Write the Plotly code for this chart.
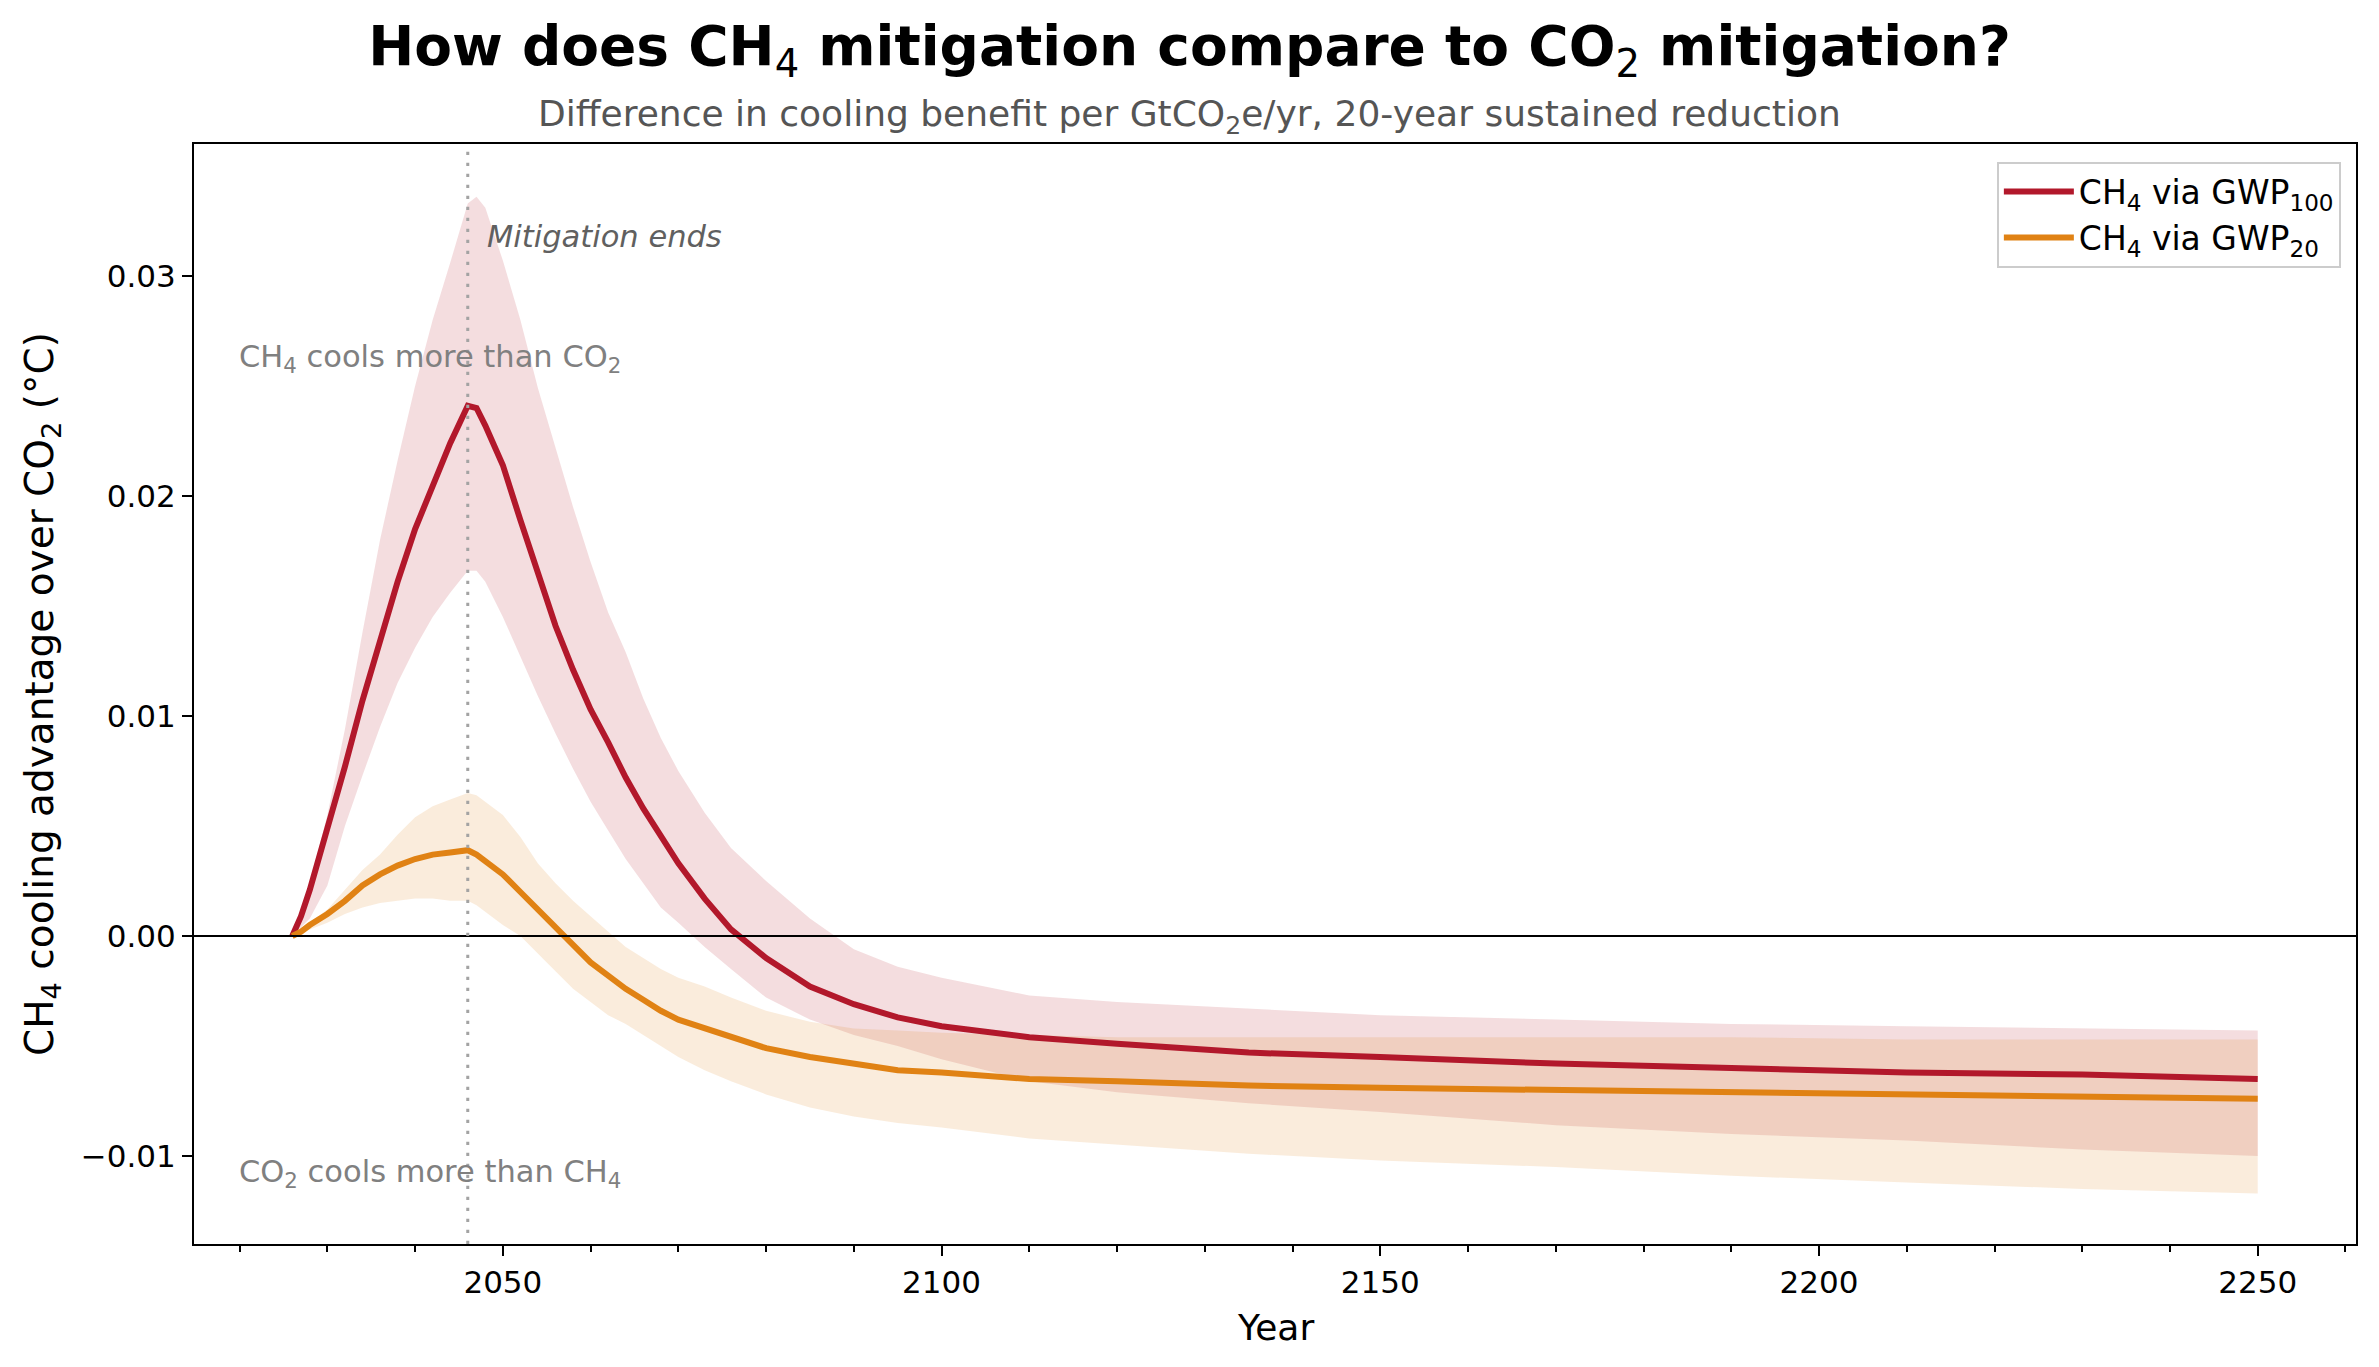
import plotly.graph_objects as go

# ---------------- data ----------------
years = [2026, 2027, 2028, 2030, 2032, 2034, 2036, 2038, 2040, 2042, 2044, 2046, 2047, 2048,
         2050, 2052, 2054, 2056, 2058, 2060, 2062, 2064, 2066, 2068, 2070, 2073, 2076, 2080,
         2085, 2090, 2095, 2100, 2110, 2120, 2135, 2150, 2170, 2190, 2210, 2230, 2250]

gwp100_mid = [0.0, 0.0009, 0.0021, 0.0048, 0.0077, 0.0107, 0.0135, 0.0161, 0.0185, 0.0205,
              0.0224, 0.0241, 0.0240, 0.0232, 0.0214, 0.0189, 0.0166, 0.0141, 0.0121, 0.0103,
              0.0088, 0.0072, 0.0058, 0.0045, 0.0033, 0.0017, 0.0003, -0.0010, -0.0023,
              -0.0031, -0.0037, -0.0041, -0.0046, -0.0049, -0.0053, -0.0055, -0.0058, -0.0060,
              -0.0062, -0.0063, -0.0065]
gwp100_hi = [0.0, 0.0010, 0.0024, 0.0055, 0.0094, 0.0138, 0.0180, 0.0216, 0.0250, 0.0280,
             0.0306, 0.0333, 0.0336, 0.0331, 0.0307, 0.0280, 0.0249, 0.0222, 0.0195, 0.0170,
             0.0147, 0.0129, 0.0108, 0.0090, 0.0075, 0.0056, 0.0040, 0.0025, 0.0008, -0.0006,
             -0.0014, -0.0019, -0.0027, -0.0030, -0.0033, -0.0036, -0.0038, -0.0040, -0.0041,
             -0.0042, -0.0043]
gwp100_lo = [0.0, 0.0004, 0.0008, 0.0023, 0.0050, 0.0073, 0.0095, 0.0115, 0.0131, 0.0145,
             0.0156, 0.0166, 0.0166, 0.0161, 0.0145, 0.0127, 0.0109, 0.0092, 0.0076, 0.0061,
             0.0048, 0.0035, 0.0024, 0.0013, 0.0006, -0.0005, -0.0015, -0.0028, -0.0038,
             -0.0045, -0.0050, -0.0056, -0.0066, -0.0071, -0.0076, -0.0080, -0.0086, -0.0090,
             -0.0093, -0.0097, -0.0100]

gwp20_mid = [0.0, 0.0002, 0.0005, 0.0010, 0.0016, 0.0023, 0.0028, 0.0032, 0.0035, 0.0037,
             0.0038, 0.0039, 0.0037, 0.0034, 0.0028, 0.0020, 0.0012, 0.0004, -0.0004, -0.0012,
             -0.0018, -0.0024, -0.0029, -0.0034, -0.0038, -0.0042, -0.0046, -0.0051, -0.0055,
             -0.0058, -0.0061, -0.0062, -0.0065, -0.0066, -0.0068, -0.0069, -0.0070, -0.0071,
             -0.0072, -0.0073, -0.0074]
gwp20_hi = [0.0, 0.0003, 0.0006, 0.0012, 0.0021, 0.0030, 0.0037, 0.0046, 0.0054, 0.0059,
            0.0062, 0.0065, 0.0064, 0.0061, 0.0055, 0.0045, 0.0033, 0.0024, 0.0016, 0.0009,
            0.0002, -0.0005, -0.0010, -0.0015, -0.0019, -0.0023, -0.0028, -0.0034, -0.0039,
            -0.0042, -0.0043, -0.0044, -0.0045, -0.0046, -0.0046, -0.0046, -0.0046, -0.0046,
            -0.0047, -0.0047, -0.0047]
gwp20_lo = [0.0, 0.0001, 0.0003, 0.0006, 0.0010, 0.0013, 0.0015, 0.0016, 0.0017, 0.0017,
            0.0016, 0.0016, 0.0014, 0.0011, 0.0005, 0.0000, -0.0008, -0.0016, -0.0024, -0.0030,
            -0.0036, -0.0040, -0.0045, -0.0050, -0.0055, -0.0061, -0.0066, -0.0072, -0.0078,
            -0.0082, -0.0085, -0.0087, -0.0092, -0.0095, -0.0099, -0.0102, -0.0105, -0.0109,
            -0.0112, -0.0115, -0.0117]

mitigation_end = 2046
x_tick_vals = [2050, 2100, 2150, 2200, 2250]
y_tick_vals = [-0.01, 0.0, 0.01, 0.02, 0.03]
y_tick_text = ["\u22120.01", "0.00", "0.01", "0.02", "0.03"]

series_names = ["CH<sub>4</sub> via GWP<sub>100</sub>", "CH<sub>4</sub> via GWP<sub>20</sub>"]

# ---------------- styling ----------------
RED = "#b2182b"
ORANGE = "#e08214"
RED_FILL = "rgba(178,24,43,0.15)"
ORANGE_FILL = "rgba(224,130,20,0.15)"
FONT = "DejaVu Sans"

fig = go.Figure()

# uncertainty bands
fig.add_trace(go.Scatter(x=years + years[::-1], y=gwp100_hi + gwp100_lo[::-1],
                         fill="toself", fillcolor=RED_FILL, line=dict(width=0),
                         mode="lines", hoverinfo="skip", showlegend=False))
fig.add_trace(go.Scatter(x=years + years[::-1], y=gwp20_hi + gwp20_lo[::-1],
                         fill="toself", fillcolor=ORANGE_FILL, line=dict(width=0),
                         mode="lines", hoverinfo="skip", showlegend=False))
# central lines
fig.add_trace(go.Scatter(x=years, y=gwp100_mid, mode="lines", name=series_names[0],
                         line=dict(color=RED, width=6)))
fig.add_trace(go.Scatter(x=years, y=gwp20_mid, mode="lines", name=series_names[1],
                         line=dict(color=ORANGE, width=6)))

# zero line and mitigation end marker
fig.add_shape(type="line", xref="paper", x0=0, x1=1, yref="y", y0=0, y1=0,
              line=dict(color="black", width=2.2), layer="above")
fig.add_shape(type="line", xref="x", x0=mitigation_end, x1=mitigation_end, yref="paper",
              y0=0, y1=1, line=dict(color="#a3a3a3", width=3, dash="3.3px,7.7px"), layer="above")

W, H = 2379, 1367
ml, mr, mt, mb = 194, 23, 144, 123
pw = W - ml - mr
ph = H - mt - mb

fig.update_layout(
    width=W, height=H,
    margin=dict(l=ml, r=mr, t=mt, b=mb),
    paper_bgcolor="white", plot_bgcolor="white",
    font=dict(family=FONT, color="black", size=31),
    title=dict(text="<b>How does CH</b><sub>4</sub><b> mitigation compare to CO</b><sub>2</sub><b> mitigation?</b>",
               x=0.5, xref="container", xanchor="center",
               y=1 - 46 / H, yref="container", yanchor="middle",
               font=dict(family=FONT, size=55, color="black")),
    xaxis=dict(range=[2014.8, 2261.2], tickvals=x_tick_vals, ticks="outside",
               ticklen=10, tickwidth=2.2, tickcolor="black",
               showline=True, linecolor="black", linewidth=2.2, mirror=True,
               showgrid=False, zeroline=False,
               tickfont=dict(size=31),
               minor=dict(dtick=10, tick0=2020, ticks="outside", ticklen=6,
                          tickwidth=1.6, tickcolor="black", showgrid=False)),
    yaxis=dict(range=[-0.014, 0.036], tickvals=y_tick_vals, ticktext=y_tick_text,
               ticks="outside", ticklen=10, tickwidth=2.2, tickcolor="black",
               showline=True, linecolor="black", linewidth=2.2, mirror=True,
               showgrid=False, zeroline=False, tickfont=dict(size=31)),
    legend=dict(x=0.993, y=0.984, xanchor="right", yanchor="top",
                bgcolor="rgba(255,255,255,0.8)", bordercolor="#cccccc", borderwidth=2,
                font=dict(size=33), itemwidth=70, tracegroupgap=6),
    showlegend=True,
)

# subtitle
fig.add_annotation(text="Difference in cooling benefit per GtCO<sub>2</sub>e/yr, 20-year sustained reduction",
                   xref="paper", yref="paper", x=(W / 2 - ml) / pw, y=1 + (mt - 116) / ph,
                   xanchor="center", yanchor="middle", showarrow=False,
                   font=dict(family=FONT, size=36, color="#555555"))
# axis titles
fig.add_annotation(text="Year", xref="paper", yref="paper", x=0.5, y=-(1327 - (H - mb)) / ph,
                   xanchor="center", yanchor="middle", showarrow=False,
                   font=dict(family=FONT, size=36, color="black"))
fig.add_annotation(text="CH<sub>4</sub> cooling advantage over CO<sub>2</sub> (\u00b0C)",
                   xref="paper", yref="paper", x=(42 - ml) / pw, y=0.5, textangle=-90,
                   xanchor="center", yanchor="middle", showarrow=False,
                   font=dict(family=FONT, size=39, color="black"))
# in-plot annotations
fig.add_annotation(text="<i>Mitigation ends</i>", xref="x", yref="y", x=mitigation_end + 2, y=0.0318,
                   xanchor="left", yanchor="middle", showarrow=False,
                   font=dict(family=FONT, size=30.5, color="#606060"))
fig.add_annotation(text="CH<sub>4</sub> cools more than CO<sub>2</sub>", xref="paper", yref="paper",
                   x=0.02, y=0.805, xanchor="left", yanchor="middle", showarrow=False,
                   font=dict(family=FONT, size=30.5, color="#808080"))
fig.add_annotation(text="CO<sub>2</sub> cools more than CH<sub>4</sub>", xref="paper", yref="paper",
                   x=0.02, y=0.0645, xanchor="left", yanchor="middle", showarrow=False,
                   font=dict(family=FONT, size=30.5, color="#808080"))

fig.write_html("out.html", config={"displayModeBar": False},
               post_script="document.body.style.margin='0';")
